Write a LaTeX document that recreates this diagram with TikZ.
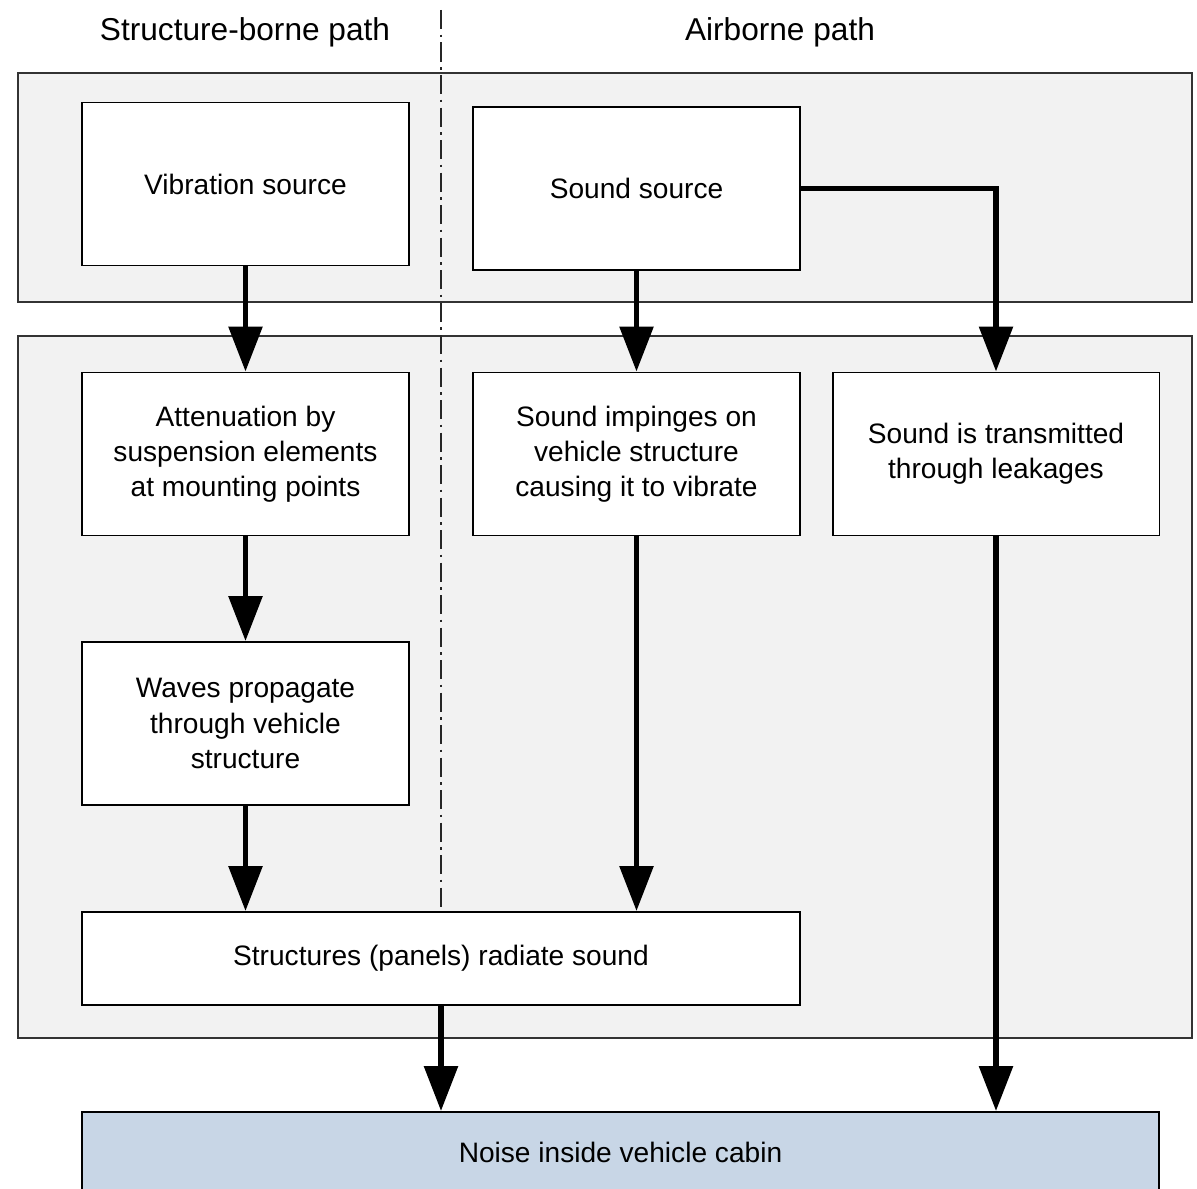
\documentclass[tikz,border=0pt]{standalone}
\usepackage{fontspec}
\setmainfont{Liberation Sans}
\usetikzlibrary{arrows.meta}
\definecolor{bandgray}{HTML}{F2F2F2}
\definecolor{cabinblue}{HTML}{C8D6E6}
\tikzset{
  band/.style  = {draw=black!80, line width=1.1pt, fill=bandgray},
  blok/.style  = {rectangle, draw, line width=1.1pt, fill=white, align=center, inner sep=0,
                  minimum width=6.54cm, minimum height=3.26cm,
                  font=\fontsize{16}{20}\selectfont},
  flow/.style  = {line width=3.3pt, -{Triangle[length=0.9cm, width=0.66cm]}},
  divide/.style= {draw=black!85, line width=1.5pt, dash pattern=on 11pt off 3pt on 1.5pt off 3pt},
  head/.style  = {font=\fontsize{18}{22}\selectfont}
}
\begin{document}
\begin{tikzpicture}[x=0.02cm, y=-0.02cm]
  \useasboundingbox (0,0) rectangle (1197,1189);
  \clip (0,0) rectangle (1197,1189);
  % bands
  \path[band] (18,73) rectangle (1192,302);
  \path[band] (18,336) rectangle (1192,1038);
  % headings
  \node[head] (hs) at (245,32) {Structure-borne path};
  \node[head] (ha) at (780,32) {Airborne path};
  % boxes
  \node[blok] (V) at (245.5,184) {Vibration source};
  \node[blok] (S) at (636.5,188.5) {Sound source};
  \node[blok] (A) at (245.5,454) {Attenuation by\\suspension elements\\at mounting points};
  \node[blok] (I) at (636.5,454) {Sound impinges on\\vehicle structure\\causing it to vibrate};
  \node[blok] (T) at (996,454) {Sound is transmitted\\through leakages};
  \node[blok] (W) at (245.5,723.5) {Waves propagate\\through vehicle\\structure};
  \node[blok, minimum width=14.36cm, minimum height=1.86cm] (R) at (441,958.5) {Structures (panels) radiate sound};
  \node[blok, fill=cabinblue, minimum width=21.54cm, minimum height=1.6cm] (N) at (620.5,1152) {Noise inside vehicle cabin};
  % divider
  \coordinate (top) at (441,10);
  \path[divide] (top) -- (top |- R.north);
  % connectors
  \draw[flow] (V) -- (A);
  \draw[flow] (S) -- (I);
  \draw[flow] (S.east) -| (T.north);
  \draw[flow] (A) -- (W);
  \draw[flow] (W.south) -- (W.south |- R.north);
  \draw[flow] (I.south) -- (I.south |- R.north);
  \draw[flow] (R.south) -- (R.south |- N.north);
  \draw[flow] (T.south) -- (T.south |- N.north);
\end{tikzpicture}
\end{document}
